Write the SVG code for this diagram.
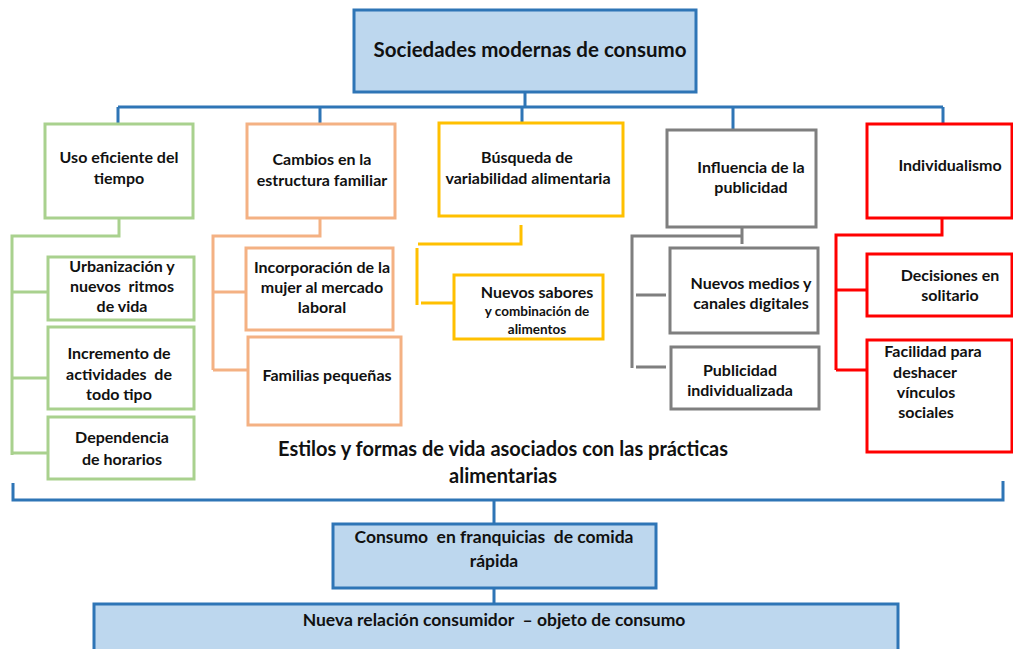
<svg xmlns="http://www.w3.org/2000/svg" width="1013" height="649" viewBox="0 0 1013 649">
<style>
text{font-family:Lato,"Liberation Sans",sans-serif;font-weight:bold;fill:#111;text-anchor:middle}
.t{font-size:16px}
.s{font-size:13.5px}
.b{font-size:17.5px}
.blue{fill:#bdd7ee;stroke:#2e75b6;stroke-width:3}
.g{fill:#fff;stroke:#a9d18e;stroke-width:3}
.o{fill:#fff;stroke:#f4b183;stroke-width:3}
.y{fill:#fff;stroke:#ffc000;stroke-width:3}
.k{fill:#fff;stroke:#7f7f7f;stroke-width:3}
.r{fill:#fff;stroke:#ff0000;stroke-width:3}
.lb{fill:none;stroke:#2e75b6;stroke-width:3}
.lg{fill:none;stroke:#a9d18e;stroke-width:3}
.lo{fill:none;stroke:#f4b183;stroke-width:3}
.ly{fill:none;stroke:#ffc000;stroke-width:3}
.lk{fill:none;stroke:#7f7f7f;stroke-width:3}
.lr{fill:none;stroke:#ff0000;stroke-width:3}
</style>
<rect width="1013" height="649" fill="#fff"/>
<g id="connectors">
<path class="lb" d="M525 92V107M118 107H943M118 107V123M320 107V123M522 107V122M733 107V130M943 107V123"/>
<path class="lg" d="M119 218V236H12V455M12 292H48M12 378H48M12 453H48"/>
<path class="lo" d="M320 218V236H213V370M213 292H246M213 370H248"/>
<path class="ly" d="M521 225V244H418M417 248V305M421 303H454"/>
<path class="lk" d="M742 227V244M742 236H632V368M636 295H666M636 367H666"/>
<path class="lr" d="M942 218V235H836V370M836 290H867M836 370H867"/>
<path class="lb" d="M13 483V500H1003V481M494 500V524M494 588V604"/>
</g>
<g id="n-top"><rect class="blue" x="354" y="10" width="342" height="82"/><text x="530" y="57" style="font-size:20.5px">Sociedades modernas de consumo</text></g>
<g id="n-uso"><rect class="g" x="45" y="124" width="148" height="94"/><text class="t" x="119" y="163">Uso eficiente del</text><text class="t" x="119" y="184">tiempo</text></g>
<g id="n-urb"><rect class="g" x="48" y="257" width="146" height="63"/><text class="t" x="122" y="272">Urbanización y</text><text class="t" x="122" y="292" xml:space="preserve">nuevos  ritmos</text><text class="t" x="122" y="312">de vida</text></g>
<g id="n-inc"><rect class="g" x="48" y="327" width="146" height="82"/><text class="t" x="119" y="359">Incremento de</text><text class="t" x="119" y="380" xml:space="preserve">actividades  de</text><text class="t" x="119" y="400">todo tipo</text></g>
<g id="n-dep"><rect class="g" x="48" y="417" width="146" height="62"/><text class="t" x="122" y="443">Dependencia</text><text class="t" x="122" y="465">de horarios</text></g>
<g id="n-cam"><rect class="o" x="247" y="124" width="148" height="94"/><text class="t" x="322" y="165">Cambios en la</text><text class="t" x="322" y="186">estructura familiar</text></g>
<g id="n-mujer"><rect class="o" x="246" y="248" width="147" height="82"/><text class="t" x="322" y="273">Incorporación de la</text><text class="t" x="322" y="293">mujer al mercado</text><text class="t" x="322" y="313">laboral</text></g>
<g id="n-fam"><rect class="o" x="248" y="337" width="153" height="88"/><text class="t" x="327" y="381">Familias pequeñas</text></g>
<g id="n-bus"><rect class="y" x="439" y="123" width="184" height="93"/><text class="t" x="527" y="163">Búsqueda de</text><text class="t" x="528" y="184">variabilidad alimentaria</text></g>
<g id="n-sab"><rect class="y" x="454" y="275" width="149" height="64"/><text class="t" x="537" y="298">Nuevos sabores</text><text class="s" x="537" y="316">y combinación de</text><text class="s" x="537" y="334">alimentos</text></g>
<g id="n-inf"><rect class="k" x="667" y="130" width="149" height="97"/><text class="t" x="751" y="173">Influencia de la</text><text class="t" x="751" y="193">publicidad</text></g>
<g id="n-med"><rect class="k" x="670" y="248" width="148" height="85"/><text class="t" x="751" y="289">Nuevos medios y</text><text class="t" x="751" y="309">canales digitales</text></g>
<g id="n-pub"><rect class="k" x="671" y="347" width="148" height="62"/><text class="t" x="740" y="376">Publicidad</text><text class="t" x="740" y="396">individualizada</text></g>
<g id="n-ind"><rect class="r" x="867" y="124" width="145" height="94"/><text class="t" x="950" y="171">Individualismo</text></g>
<g id="n-dec"><rect class="r" x="867" y="254" width="145" height="62"/><text class="t" x="950" y="281">Decisiones en</text><text class="t" x="950" y="301">solitario</text></g>
<g id="n-fac"><rect class="r" x="867" y="340" width="145" height="112"/><text class="t" x="933" y="357">Facilidad para</text><text class="t" x="925" y="378">deshacer</text><text class="t" x="926" y="398">vínculos</text><text class="t" x="926" y="418">sociales</text></g>
<g id="n-estilos"><text x="503" y="456" style="font-size:20px">Estilos y formas de vida asociados con las prácticas</text><text x="503" y="483" style="font-size:20px">alimentarias</text></g>
<g id="n-consumo"><rect class="blue" x="333" y="524" width="323" height="64"/><text class="b" x="494" y="543" xml:space="preserve">Consumo  en franquicias  de comida</text><text class="b" x="494" y="567">rápida</text></g>
<g id="n-nueva"><rect class="blue" x="94" y="604" width="804" height="60"/><text class="b" x="494" y="626" xml:space="preserve">Nueva relación consumidor  – objeto de consumo</text></g>
</svg>
